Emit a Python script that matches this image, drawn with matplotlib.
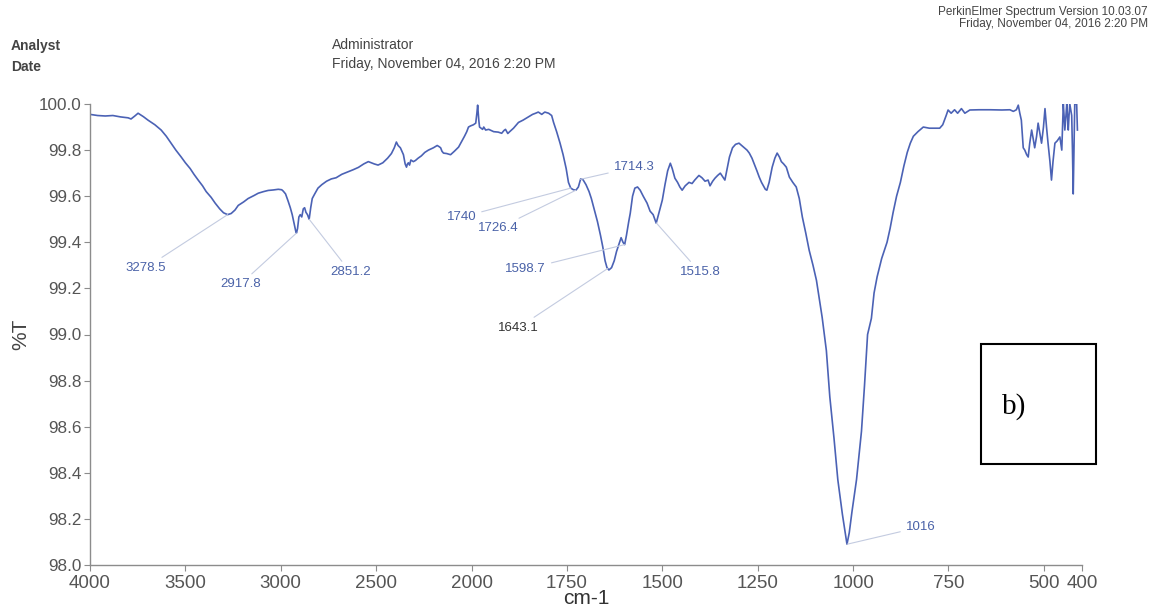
import numpy as np
import matplotlib
matplotlib.use('Agg')
import matplotlib.pyplot as plt
from matplotlib.patches import Rectangle

plt.rcParams['font.family'] = ['Liberation Sans', 'DejaVu Sans']

# Spectrum: wavenumber (cm-1) and transmittance (%T)
wavenumber = [
    4000, 3960, 3920, 3880, 3840, 3800, 3785, 3765, 3748, 3720, 3696, 3660,
    3627, 3600, 3575, 3550, 3522, 3500, 3475, 3455, 3433, 3410, 3391, 3365,
    3344, 3320, 3300, 3278.5, 3260, 3240, 3223, 3195, 3171, 3140, 3118, 3090,
    3066, 3040, 3013, 2995, 2987, 2975, 2962, 2950, 2940, 2930, 2922, 2917.8,
    2912, 2905, 2898, 2890, 2882, 2875, 2868, 2860, 2851.2, 2843, 2835, 2822,
    2805, 2785, 2760, 2735, 2710, 2680, 2650, 2620, 2593, 2565, 2541, 2525,
    2510, 2490, 2465, 2440, 2420, 2405, 2394, 2385, 2373, 2365, 2357, 2348,
    2341, 2336, 2331, 2325, 2318, 2305, 2294, 2280, 2263, 2245, 2226, 2200,
    2180, 2170, 2162, 2155, 2147, 2130, 2110, 2090, 2068, 2050, 2037, 2025,
    2016, 2005, 1995, 1989, 1986, 1984, 1981, 1979, 1975, 1971, 1968, 1963,
    1955, 1942, 1930, 1921, 1915, 1911, 1905, 1900, 1890, 1877, 1865, 1850,
    1840, 1832, 1825, 1816, 1808, 1798, 1790, 1785, 1777, 1768, 1760, 1752,
    1746, 1740, 1733, 1726.4, 1720, 1714, 1708, 1700, 1692, 1686, 1678, 1670,
    1662, 1656, 1650, 1645, 1640, 1633, 1626, 1620, 1614, 1608, 1603, 1598.7,
    1594, 1588, 1584, 1578, 1572, 1565, 1558, 1550, 1540, 1532, 1524, 1516,
    1510, 1500, 1493, 1486, 1479, 1474, 1467, 1460, 1454, 1448, 1440, 1430,
    1422, 1415, 1404, 1396, 1388, 1380, 1375, 1368, 1362, 1355, 1348, 1344,
    1336, 1330, 1324, 1316, 1308, 1299, 1292, 1285, 1278, 1272, 1265, 1259,
    1252, 1246, 1240, 1235, 1230, 1226, 1220, 1212, 1205, 1199, 1193, 1188,
    1182, 1175, 1167, 1158, 1149, 1141, 1133, 1124, 1115, 1105, 1096, 1088,
    1081, 1070, 1061, 1050, 1040, 1028, 1016, 1010, 1003, 991, 978, 970,
    962, 952, 945, 937, 925, 911, 903, 895, 886, 876, 867, 858,
    850, 842, 830, 816, 800, 785, 773, 765, 756, 751, 743, 734,
    726, 716, 707, 694, 670, 640, 610, 589, 580, 572, 567, 563,
    559, 554, 550, 545, 541, 537, 532, 528, 524, 519, 515, 510,
    506, 501, 497, 493, 489, 484, 480, 476, 471, 465, 458, 453,
    449, 447, 445, 442, 440, 438, 436, 434, 432, 427, 425, 423,
    421, 419, 416, 414, 412,
]
transmittance = [
    99.955, 99.95, 99.948, 99.95, 99.944, 99.94, 99.935, 99.948, 99.96, 99.945, 99.93, 99.91,
    99.887, 99.86, 99.83, 99.80, 99.77, 99.745, 99.72, 99.695, 99.67, 99.645, 99.62, 99.595,
    99.57, 99.545, 99.528, 99.52, 99.525, 99.54, 99.56, 99.575, 99.59, 99.603, 99.613, 99.62,
    99.625, 99.627, 99.63, 99.628, 99.622, 99.61, 99.58, 99.55, 99.52, 99.48, 99.45, 99.44,
    99.46, 99.51, 99.52, 99.51, 99.545, 99.55, 99.53, 99.52, 99.50, 99.55, 99.59, 99.61,
    99.635, 99.65, 99.665, 99.675, 99.68, 99.695, 99.705, 99.715, 99.725, 99.74, 99.75, 99.745,
    99.74, 99.735, 99.745, 99.765, 99.785, 99.81, 99.835, 99.82, 99.81, 99.795, 99.78, 99.74,
    99.726, 99.74, 99.745, 99.735, 99.757, 99.75, 99.755, 99.765, 99.775, 99.79, 99.80, 99.81,
    99.82, 99.815, 99.81, 99.795, 99.787, 99.785, 99.78, 99.795, 99.813, 99.84, 99.86, 99.88,
    99.90, 99.905, 99.91, 99.917, 99.96, 99.995, 99.93, 99.90, 99.895, 99.89, 99.90, 99.887,
    99.89, 99.88, 99.878, 99.873, 99.885, 99.89, 99.872, 99.88, 99.895, 99.92, 99.93, 99.945,
    99.955, 99.96, 99.965, 99.955, 99.965, 99.96, 99.95, 99.92, 99.88, 99.83, 99.78, 99.72,
    99.66, 99.635, 99.628, 99.626, 99.64, 99.675, 99.672, 99.65, 99.62, 99.59, 99.54, 99.49,
    99.43, 99.38, 99.32, 99.29, 99.28, 99.29, 99.32, 99.36, 99.39, 99.42, 99.40, 99.39,
    99.43, 99.49, 99.526, 99.60, 99.635, 99.64, 99.626, 99.60, 99.57, 99.535, 99.52, 99.483,
    99.52, 99.583, 99.65, 99.71, 99.743, 99.72, 99.678, 99.66, 99.64, 99.626, 99.645, 99.66,
    99.655, 99.67, 99.69, 99.68, 99.665, 99.67, 99.645, 99.665, 99.678, 99.69, 99.70, 99.69,
    99.67, 99.72, 99.77, 99.81, 99.825, 99.83, 99.82, 99.81, 99.80, 99.787, 99.765, 99.74,
    99.71, 99.683, 99.66, 99.645, 99.63, 99.626, 99.66, 99.726, 99.765, 99.787, 99.77, 99.75,
    99.74, 99.726, 99.683, 99.66, 99.64, 99.59, 99.51, 99.44, 99.365, 99.30, 99.235, 99.15,
    99.074, 98.93, 98.73, 98.55, 98.37, 98.22, 98.09, 98.14, 98.23, 98.37, 98.58, 98.78,
    99.0, 99.07, 99.18, 99.25, 99.33, 99.40, 99.46, 99.53, 99.60, 99.66, 99.73, 99.79,
    99.83, 99.86, 99.88, 99.90, 99.895, 99.895, 99.895, 99.91, 99.95, 99.974, 99.96, 99.975,
    99.96, 99.98, 99.96, 99.974, 99.975, 99.975, 99.974, 99.975, 99.968, 99.975, 99.995, 99.96,
    99.93, 99.81, 99.80, 99.78, 99.77, 99.83, 99.887, 99.85, 99.81, 99.86, 99.917, 99.87,
    99.83, 99.90, 99.98, 99.90, 99.83, 99.75, 99.67, 99.75, 99.83, 99.84, 99.857, 99.80,
    100.0, 99.95, 99.887, 99.95, 100.0, 99.95, 99.887, 99.95, 100.0, 99.95, 99.80, 99.61,
    99.80, 100.0, 100.0, 100.0, 99.887,
]

# Peak labels and where their text sits (wavenumber, %T)
peak_labels = ['3278.5', '2917.8', '2851.2', '1714.3', '1740', '1726.4',
               '1598.7', '1515.8', '1643.1', '1016']
label_x = [3706, 3213, 2635, 1574, 2053, 1929, 1858, 1401, 1877, 823]
label_y = [99.29, 99.217, 99.27, 99.726, 99.509, 99.461, 99.283, 99.27, 99.03, 98.165]
label_colors = ['#4a62a8'] * 8 + ['#333333', '#4a62a8']

x_ticks = [4000, 3500, 3000, 2500, 2000, 1750, 1500, 1250, 1000, 750, 500, 400]
y_ticks = [98.0, 98.2, 98.4, 98.6, 98.8, 99.0, 99.2, 99.4, 99.6, 99.8, 100.0]


# The x axis is compressed by half above 2000 cm-1
def fwd(x):
    x = np.asarray(x, dtype=float)
    return np.where(x > 2000, 2000 + (x - 2000) / 2, x)


def inv(t):
    t = np.asarray(t, dtype=float)
    return np.where(t > 2000, 2000 + (t - 2000) * 2, t)


fig = plt.figure(figsize=(11.73, 6.14), dpi=100)
ax = fig.add_axes([90 / 1173, 49 / 614, 992 / 1173, 461 / 614])

ax.set_xscale('function', functions=(fwd, inv))
ax.plot(wavenumber, transmittance, color='#4b62b5', lw=1.2)
ax.set_xlim(4000, 400)
ax.set_ylim(98.0, 100.0)

for spine in ['top', 'right']:
    ax.spines[spine].set_visible(False)
for spine in ['left', 'bottom']:
    ax.spines[spine].set_color('#8c8c8c')
    ax.spines[spine].set_linewidth(1.0)

ax.set_xticks(x_ticks)
ax.set_xticklabels([str(v) for v in x_ticks])
ax.set_yticks(y_ticks)
ax.set_yticklabels(['%.1f' % v for v in y_ticks])
ax.tick_params(axis='x', colors='#8c8c8c', labelcolor='#555555', labelsize=13.5,
               length=4, pad=3)
ax.tick_params(axis='y', colors='#8c8c8c', labelcolor='#555555', labelsize=12.3,
               length=4, pad=2)
ax.minorticks_off()

ax.set_xlabel('cm-1', fontsize=15, color='#333333', labelpad=-2)
ax.set_ylabel('%T', fontsize=15, color='#444444', labelpad=6)

# Peak labels with leader lines to the curve
wn_asc = np.array(wavenumber)[::-1]
tr_asc = np.array(transmittance)[::-1]
for lab, lx, ly, col in zip(peak_labels, label_x, label_y, label_colors):
    px = float(lab)
    py = np.interp(px, wn_asc, tr_asc)
    ax.annotate(lab, xy=(px, py), xytext=(lx, ly), color=col, fontsize=9.5,
                ha='center', va='center',
                arrowprops=dict(arrowstyle='-', color='#c3cbe0', lw=0.8,
                                shrinkA=2, shrinkB=0))

# Header text
fig.text(11 / 1173, 1 - 46 / 614, 'Analyst', fontsize=10, fontweight='bold',
         color='#444444', va='center')
fig.text(11 / 1173, 1 - 67 / 614, 'Date', fontsize=10, fontweight='bold',
         color='#444444', va='center')
fig.text(332 / 1173, 1 - 45 / 614, 'Administrator', fontsize=10,
         color='#444444', va='center')
fig.text(332 / 1173, 1 - 64 / 614, 'Friday, November 04, 2016 2:20 PM',
         fontsize=10, color='#444444', va='center')
fig.text(1148 / 1173, 1 - 12 / 614, 'PerkinElmer Spectrum Version 10.03.07',
         fontsize=8.5, color='#444444', va='center', ha='right')
fig.text(1148 / 1173, 1 - 24 / 614, 'Friday, November 04, 2016 2:20 PM',
         fontsize=8.5, color='#444444', va='center', ha='right')

# Panel tag box
fig.patches.append(Rectangle((981 / 1173, 150 / 614), 115 / 1173, 120 / 614,
                             transform=fig.transFigure, fill=False,
                             edgecolor='black', lw=1.5))
fig.text(1002 / 1173, 1 - 407 / 614, 'b)', fontsize=21, va='center',
         family='Liberation Serif', color='black')

fig.savefig('out.png', dpi=100)
